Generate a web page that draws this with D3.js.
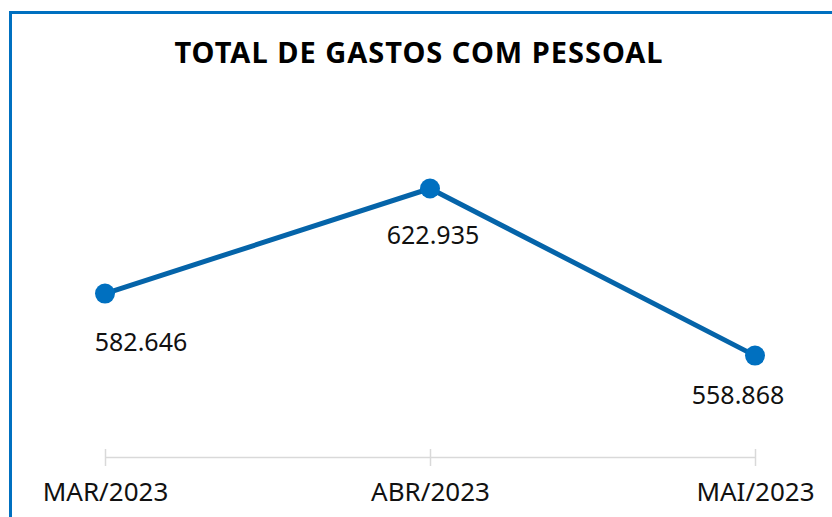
<!DOCTYPE html>
<html>
<head>
<meta charset="utf-8">
<script src="https://cdn.jsdelivr.net/npm/d3@7"></script>
<style>
  body { margin: 0; background: #fff; }
  text { font-family: "Noto Sans", sans-serif; fill: #111; }
</style>
</head>
<body>
<div id="chart"></div>
<script>
var width = 832, height = 517;
var months = ["MAR/2023", "ABR/2023", "MAI/2023"];
var values = [582646, 622935, 558868];
var labels = ["582.646", "622.935", "558.868"];

// Excel moved some labels by hand
var labelDx = [36, 3, -17];
var labelDy = [57, 55, 48];

var margin = ({ top: 144, right: 77, bottom: 60, left: 105 });

var svg = d3.select("#chart").append("svg")
    .attr("width", width)
    .attr("height", height);

// blue frame, cropped on the right and bottom
svg.append("rect")
    .attr("x", 10.5)
    .attr("y", 12.5)
    .attr("width", width + 20)
    .attr("height", height + 20)
    .attr("fill", "none")
    .attr("stroke", "#0070c0")
    .attr("stroke-width", 3);

svg.append("text")
    .attr("x", 419)
    .attr("y", 63)
    .attr("text-anchor", "middle")
    .style("font-size", "29px")
    .style("letter-spacing", "1px")
    .style("font-weight", "bold")
    .style("fill", "#000")
    .text("TOTAL DE GASTOS COM PESSOAL");

var x = d3.scalePoint()
    .domain(months)
    .range([margin.left, width - margin.right]);

var y = d3.scaleLinear()
    .domain([520000, 640000])
    .range([height - margin.bottom, margin.top]);

var axisY = y(520000);

var axis = svg.append("g")
    .attr("transform", "translate(0," + axisY + ")")
    .call(d3.axisBottom(x).tickSize(0).tickPadding(0));
axis.select(".domain").attr("stroke", "#d9d9d9").attr("stroke-width", 1.5);
axis.selectAll(".tick text").remove();
axis.selectAll(".tick").append("line")
    .attr("y1", -8).attr("y2", 9)
    .attr("stroke", "#d9d9d9").attr("stroke-width", 1.5);
axis.selectAll(".tick").append("text")
    .attr("y", 44)
    .attr("text-anchor", "middle")
    .style("font-size", "26px")
    .style("fill", "#111")
    .text(d => d);

var line = d3.line()
    .x((d, i) => x(months[i]))
    .y(d => y(d));

svg.append("path")
    .datum(values)
    .attr("d", line)
    .attr("fill", "none")
    .attr("stroke", "#0564a9")
    .attr("stroke-width", 5);

svg.selectAll(".dot")
    .data(values)
    .enter().append("circle")
    .classed("dot", true)
    .attr("cx", (d, i) => x(months[i]))
    .attr("cy", d => y(d))
    .attr("r", 10)
    .attr("fill", "#0070c0");

svg.selectAll(".val")
    .data(values)
    .enter().append("text")
    .classed("val", true)
    .attr("x", (d, i) => x(months[i]) + labelDx[i])
    .attr("y", (d, i) => y(d) + labelDy[i])
    .attr("text-anchor", "middle")
    .style("font-size", "25px")
    .text((d, i) => labels[i]);
</script>
</body>
</html>
